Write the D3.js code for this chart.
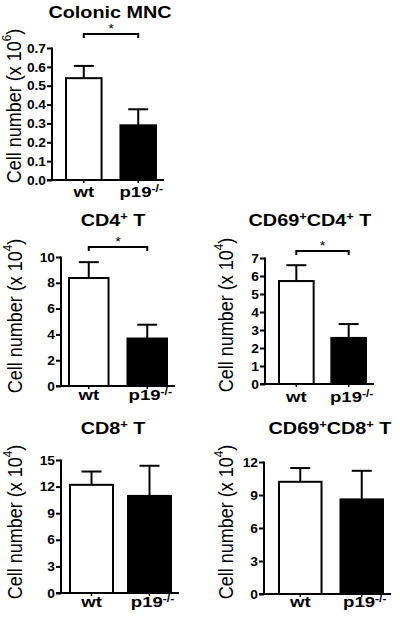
<!DOCTYPE html>
<html>
<head>
<meta charset="utf-8">
<script src="https://cdn.jsdelivr.net/npm/d3@7"></script>
<style>
  html, body { margin: 0; padding: 0; background: #fff; }
  svg { display: block; }
  text { font-family: "Liberation Sans", Arial, Helvetica, sans-serif; fill: #000; }
</style>
</head>
<body>
<svg id="chart" width="400" height="621"></svg>
<script>
// ---------------- DATA ----------------
const categories = ["wt", "p19"];
const panelTitles = ["Colonic MNC", "CD4+ T", "CD69+CD4+ T", "CD8+ T", "CD69+CD8+ T"];
const yExponents = ["6", "4", "4", "4", "4"];
const meanValues = [
  [0.54, 0.29],
  [8.37, 3.68],
  [5.72, 2.56],
  [12.2, 10.95],
  [10.2, 8.6]
];
const errorValues = [
  [0.065, 0.085],
  [1.23, 1.07],
  [0.88, 0.77],
  [1.5, 3.4],
  [1.25, 2.6]
];
const yMax = [0.7, 10, 7, 15, 12];
const tickValues = [
  [0, 0.1, 0.2, 0.3, 0.4, 0.5, 0.6, 0.7],
  [0, 2, 4, 6, 8, 10],
  [0, 1, 2, 3, 4, 5, 6, 7],
  [0, 3, 6, 9, 12, 15],
  [0, 3, 6, 9, 12]
];
const tickFormats = [".1f", "d", "d", "d", "d"];
const significant = [true, true, true, false, false];
const sigLabel = "*";

// ---------------- LAYOUT ----------------
const S = 1.2;      // horizontal glyph stretch seen in the reference (titles, labels)
const S_TICK = 1.06;
const layouts = [
  { axisX: 52,  yTop: 48,  yBot: 180, bandL: 65,  bandR: 157, pad: 0.31, titleX: 110, titleY: 18,  yTitleX: 14,  yTitleY: 106, xLabY: 197, bracketY: 34 },
  { axisX: 61,  yTop: 257, yBot: 386, bandL: 68,  bandR: 168, pad: 0.29, titleX: 113, titleY: 226, yTitleX: 15,  yTitleY: 316, xLabY: 400, bracketY: 247 },
  { axisX: 265, yTop: 258, yBot: 384, bandL: 278, bandR: 367, pad: 0.30, titleX: 310, titleY: 226, yTitleX: 226, yTitleY: 315, xLabY: 402, bracketY: 251 },
  { axisX: 61,  yTop: 460, yBot: 593, bandL: 69,  bandR: 172, pad: 0.224, titleX: 113, titleY: 434, yTitleX: 15, yTitleY: 522, xLabY: 607, bracketY: null },
  { axisX: 264, yTop: 462, yBot: 594, bandL: 278, bandR: 384, pad: 0.276, titleX: 330, titleY: 434, yTitleX: 226, yTitleY: 522, xLabY: 607, bracketY: null }
];

const svg = d3.select("#chart");
const FONT = '"Liberation Sans", Arial, Helvetica, sans-serif';

function addSupText(sel, parts) {
  parts.forEach(([t, sup]) => {
    const ts = sel.append("tspan").text(t);
    if (sup) ts.attr("baseline-shift", "super").attr("font-size", "65%");
  });
}

function titleParts(title) {
  const parts = [];
  const re = /([^+]*)(\+?)/g;
  let m;
  while ((m = re.exec(title)) !== null) {
    if (m[0] === "") break;
    if (m[1]) parts.push([m[1], false]);
    if (m[2]) parts.push(["+", true]);
  }
  return parts;
}

function stretchedText(parent, x, y) {
  return parent.append("g").attr("transform", `translate(${x},${y}) scale(${S},1)`)
    .append("text").attr("x", 0).attr("y", 0);
}

layouts.forEach((L, i) => {
  const g = svg.append("g");
  const y = d3.scaleLinear().domain([0, yMax[i]]).range([L.yBot, L.yTop]);
  const x = d3.scaleBand().domain(categories).range([L.bandL, L.bandR])
    .paddingInner(L.pad).paddingOuter(0);
  const xEnd = L.bandR + 7;

  // y axis
  const tickSize = 5, tickPad = 1;
  const yAxis = d3.axisLeft(y).tickValues(tickValues[i])
    .tickFormat(d3.format(tickFormats[i])).tickSize(tickSize).tickPadding(tickPad);
  const ya = g.append("g").attr("transform", `translate(${L.axisX},0)`).call(yAxis);
  ya.select(".domain").attr("stroke", "#000").attr("stroke-width", 2)
    .attr("d", `M0,${L.yTop - 0.5}V${L.yBot}`);
  ya.selectAll(".tick line").attr("stroke", "#000").attr("stroke-width", 2);
  ya.selectAll(".tick text").attr("font-family", FONT).attr("font-size", 13)
    .attr("font-weight", "bold").attr("fill", "#000")
    .attr("x", -(tickSize + tickPad) / S_TICK)
    .attr("transform", `scale(${S_TICK},1)`);

  // x axis
  const xAxis = d3.axisBottom(x).tickSize(3).tickFormat("");
  const xa = g.append("g").attr("transform", `translate(0,${L.yBot})`).call(xAxis);
  xa.select(".domain").attr("stroke", "#000").attr("stroke-width", 2)
    .attr("d", `M${L.axisX - 5},0H${xEnd}`);
  xa.selectAll(".tick line").attr("stroke", "#000").attr("stroke-width", 1.5);

  // error bars (upper only)
  categories.forEach((c, j) => {
    const cx = x(c) + x.bandwidth() / 2;
    const top = y(meanValues[i][j] + errorValues[i][j]);
    g.append("line").attr("x1", cx).attr("x2", cx)
      .attr("y1", y(meanValues[i][j])).attr("y2", top)
      .attr("stroke", "#000").attr("stroke-width", 2);
    g.append("line").attr("x1", cx - 10).attr("x2", cx + 10)
      .attr("y1", top).attr("y2", top)
      .attr("stroke", "#000").attr("stroke-width", 2);
  });

  // bars
  g.selectAll("rect.bar").data(categories).join("rect")
    .attr("class", "bar")
    .attr("x", d => x(d) + 1)
    .attr("width", x.bandwidth() - 2)
    .attr("y", (d, j) => y(meanValues[i][j]))
    .attr("height", (d, j) => L.yBot - y(meanValues[i][j]))
    .attr("fill", (d, j) => j === 0 ? "#fff" : "#000")
    .attr("stroke", "#000").attr("stroke-width", 2);

  // x labels
  categories.forEach((c, j) => {
    const t = stretchedText(g, x(c) + x.bandwidth() / 2 + (j === 1 ? 3 : 0), L.xLabY)
      .attr("text-anchor", "middle")
      .attr("font-size", 15.5).attr("font-weight", "bold");
    if (j === 0) t.text(c);
    else addSupText(t, [[c, false], ["-/-", true]]);
  });

  // title
  const tt = stretchedText(g, L.titleX, L.titleY)
    .attr("text-anchor", "middle").attr("font-size", 16.5).attr("font-weight", "bold");
  addSupText(tt, titleParts(panelTitles[i]));

  // y title
  const yt = g.append("g")
    .attr("transform", `translate(${L.yTitleX},${L.yTitleY}) scale(1.15,1) rotate(-90)`)
    .append("text")
    .attr("text-anchor", "middle").attr("dominant-baseline", "central")
    .attr("font-size", 18);
  addSupText(yt, [["Cell number (x 10", false], [yExponents[i], true], [")", false]]);

  // significance bracket
  if (significant[i]) {
    const x1 = x(categories[0]) + x.bandwidth() / 2;
    const x2 = x(categories[1]) + x.bandwidth() / 2;
    g.append("path")
      .attr("d", `M${x1},${L.bracketY + 4}V${L.bracketY}H${x2}V${L.bracketY + 4}`)
      .attr("fill", "none").attr("stroke", "#000").attr("stroke-width", 2);
    stretchedText(g, (x1 + x2) / 2, L.bracketY - 1)
      .attr("text-anchor", "middle").attr("font-size", 12).text(sigLabel);
  }
});
</script>
</body>
</html>
